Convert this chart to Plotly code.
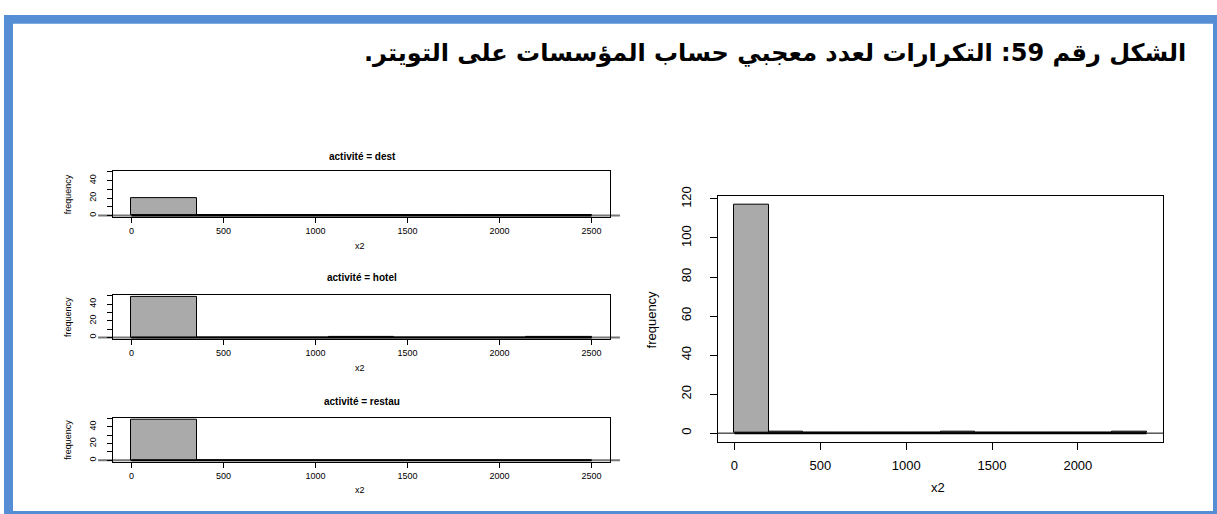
import plotly.graph_objects as go

# ---------------- data ----------------
title_text = "الشكل رقم 59: التكرارات لعدد معجبي حساب المؤسسات على التويتر."

left_breaks = [0, 357.14, 714.29, 1071.43, 1428.57, 1785.71, 2142.86, 2500]
dest_counts = [20, 0, 0, 0, 0, 0, 0]
hotel_counts = [49, 0, 0, 1, 0, 0, 1]
restau_counts = [49, 0, 0, 0, 0, 0, 0]
panel_titles = ["activité = dest", "activité = hotel", "activité = restau"]

all_breaks = [0, 200, 400, 600, 800, 1000, 1200, 1400, 1600, 1800, 2000, 2200, 2400]
all_counts = [117, 1, 0, 0, 0, 0, 1, 0, 0, 0, 0, 1]

left_xticks = [0, 500, 1000, 1500, 2000, 2500]
left_yticks = [0, 10, 20, 30, 40, 50]
left_ytext = ["0", "", "20", "", "40", ""]
right_xticks = [0, 500, 1000, 1500, 2000]
right_yticks = [0, 20, 40, 60, 80, 100, 120]

# ---------------- layout helpers ----------------
W, H = 1217, 514
FONT = "Liberation Sans, Arial, Helvetica, sans-serif"
BAR_FILL = "#aaaaaa"


def px(x):
    return x / W


def py(y):
    return 1 - y / H


fig = go.Figure()


def add_hist(breaks, counts, xa, ya):
    centers = [(a + b) / 2 for a, b in zip(breaks[:-1], breaks[1:])]
    widths = [b - a for a, b in zip(breaks[:-1], breaks[1:])]
    fig.add_trace(go.Bar(
        x=centers, y=counts, width=widths,
        marker=dict(color=BAR_FILL, line=dict(color="black", width=1)),
        xaxis=xa, yaxis=ya, showlegend=False, hoverinfo="x+y",
    ))
    fig.add_trace(go.Scatter(
        x=[breaks[0], breaks[-1]], y=[0, 0], mode="lines",
        line=dict(color="black", width=2),
        xaxis=xa, yaxis=ya, showlegend=False, hoverinfo="skip",
    ))


def note(text, x, y, size, angle=0, xanchor="center"):
    return dict(text=text, x=px(x), y=py(y), xref="paper", yref="paper", showarrow=False,
                textangle=angle, font=dict(size=size, family=FONT, color="black"),
                xanchor=xanchor, yanchor="middle")


# left panels: (box top, box bottom, title y)
left_boxes = [(165, 212, 150), (291, 336, 273), (416, 461, 400)]
left_counts = [dest_counts, hotel_counts, restau_counts]
LX0, LX1 = 113, 610

layout = dict(
    width=W, height=H,
    margin=dict(l=0, r=0, t=0, b=0),
    paper_bgcolor="white", plot_bgcolor="white",
    font=dict(family=FONT, color="black"),
    bargap=0, showlegend=False,
)

annotations = []
shapes = []

for i, ((top, bot, ty), counts, ttl) in enumerate(zip(left_boxes, left_counts, panel_titles)):
    n = i + 2
    xa, ya = f"x{n}", f"y{n}"
    add_hist(left_breaks, counts, xa, ya)
    layout[f"xaxis{n}"] = dict(
        domain=[px(LX0), px(LX1)], anchor=ya, range=[-100, 2600],
        tickvals=left_xticks, ticks="outside", ticklen=5, tickcolor="black",
        showline=True, linecolor="black", linewidth=1, mirror=True,
        showgrid=False, zeroline=False, tickfont=dict(size=9, family=FONT),
        ticklabelstandoff=0, fixedrange=True,
    )
    layout[f"yaxis{n}"] = dict(
        domain=[py(bot), py(top)], anchor=xa, range=[-2, 51],
        tickvals=left_yticks, ticktext=left_ytext, tickangle=-90,
        ticks="outside", ticklen=5, tickcolor="black",
        showline=True, linecolor="black", linewidth=1, mirror=True,
        showgrid=False, zeroline=False, tickfont=dict(size=9, family=FONT),
        ticklabelstandoff=7, fixedrange=True,
    )
    annotations.append(note(f"<b>{ttl}</b>", 362, ty, 10))
    annotations.append(note("x2", 360, bot + 29, 9))
    annotations.append(note("frequency", 68, (top + bot) / 2, 9, angle=-90))
    shapes.append(dict(type="line", xref=f"{xa} domain", yref=ya, x0=-0.03, x1=1.02, y0=0, y1=0,
                       line=dict(color="#777777", width=2), layer="below"))

# right panel
add_hist(all_breaks, all_counts, "x", "y")
RX0, RX1, RT, RB = 718, 1163, 190, 441
layout["xaxis"] = dict(
    domain=[px(RX0), px(RX1)], anchor="y", range=[-96, 2496],
    tickvals=right_xticks, ticks="outside", ticklen=7, tickcolor="black",
    showline=True, linecolor="black", linewidth=1, mirror=True,
    showgrid=False, zeroline=False, tickfont=dict(size=13, family=FONT),
    ticklabelstandoff=4, fixedrange=True,
)
layout["yaxis"] = dict(
    domain=[py(RB), py(RT)], anchor="x", range=[-4.68, 121.68],
    tickvals=right_yticks, tickangle=-90, ticks="outside", ticklen=7, tickcolor="black",
    showline=True, linecolor="black", linewidth=1, mirror=True,
    showgrid=False, zeroline=False, tickfont=dict(size=13, family=FONT),
    ticklabelstandoff=14, fixedrange=True,
)
shapes.append(dict(type="line", xref="x domain", yref="y", x0=0, x1=1, y0=0, y1=0,
                   line=dict(color="black", width=1)))
annotations.append(note("x2", 938, 487, 13))
annotations.append(note("frequency", 651, 316, 13, angle=-90))

# title (RLM keeps the final full stop on the left, as in right-to-left text)
annotations.append(dict(text=f"<b>{title_text}\u200f</b>", x=px(1188), y=py(45), xref="paper", yref="paper",
                        showarrow=False, xanchor="right", yanchor="middle",
                        font=dict(size=24, family="DejaVu Sans, Noto Sans, sans-serif", color="black")))

# blue frame
BLUE = "#558ED5"
for x0, y0, x1, y1 in [(4, 6, 13, 514), (4, 6, 1217, 15), (1213, 6, 1217, 514), (4, 511, 1217, 514)]:
    shapes.append(dict(type="rect", xref="paper", yref="paper", x0=px(x0), x1=px(x1), y0=py(y1), y1=py(y0),
                       fillcolor=BLUE, line=dict(width=0), layer="above"))

layout["annotations"] = annotations
layout["shapes"] = shapes
fig.update_layout(**layout)
fig.write_html("out.html", config={"displayModeBar": False},
               post_script="document.body.style.margin='0px';document.body.style.overflow='hidden';")
